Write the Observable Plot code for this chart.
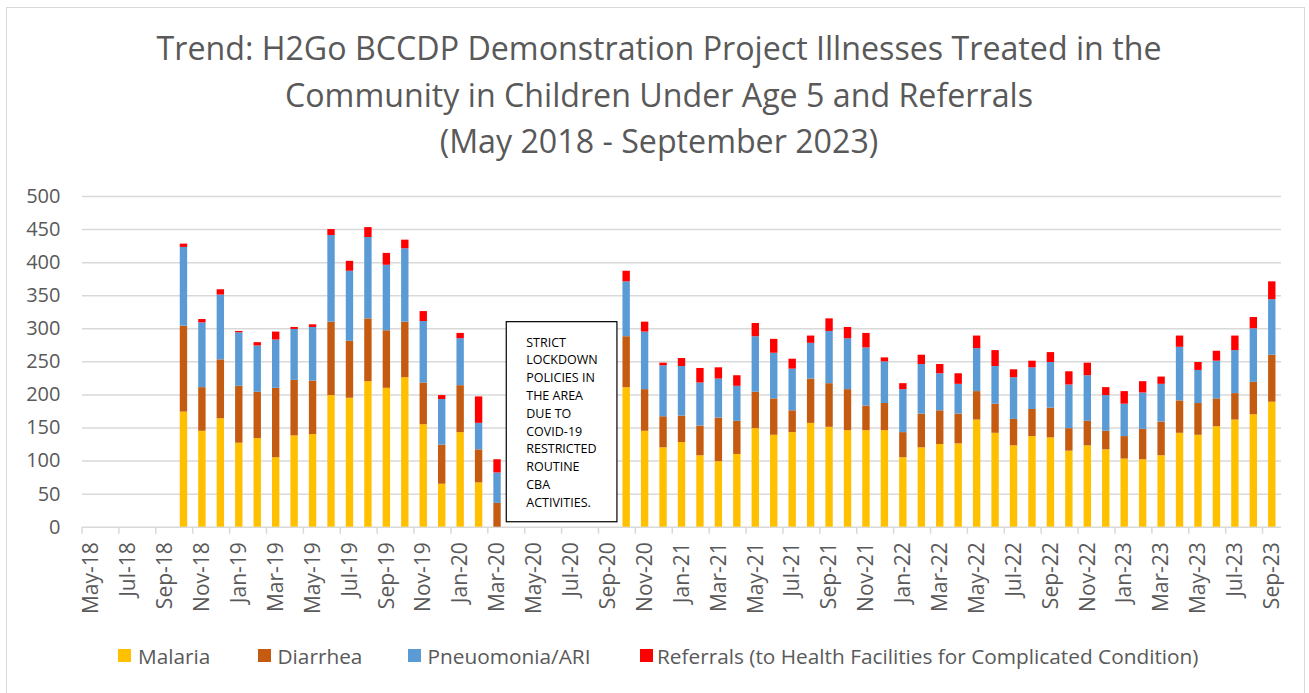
<!DOCTYPE html>
<html>
<head>
<meta charset="utf-8">
<script src="https://cdn.jsdelivr.net/npm/d3@7"></script>
<script src="https://cdn.jsdelivr.net/npm/@observablehq/plot@0.6"></script>
<style>
  html, body { margin: 0; padding: 0; background: #fff; overflow: hidden; }
  body { font-family: "Open Sans", sans-serif; }
  #wrap { position: relative; width: 1309px; height: 693px; overflow: hidden; }
  #border { position: absolute; left: 6px; top: 7px; width: 1299px; height: 720px; border: 1.5px solid #d9d9d9; box-sizing: border-box; }
  #title { position: absolute; left: 0; top: 25px; width: 1318px; text-align: center; font-size: 32.2px; line-height: 46.5px; color: #595959; }
  #chart { position: absolute; left: 0; top: 170px; }
  #chart g[aria-label^="x-axis"] text { font-size: 21px; }
  .sw { position: absolute; top: 649px; width: 13px; height: 13px; }
  .lt { position: absolute; top: 641px; font-size: 20.8px; line-height: 30px; color: #595959; white-space: nowrap; }
</style>
</head>
<body>
<div id="wrap">
  <div id="border"></div>
  <div id="title">Trend: H2Go BCCDP Demonstration Project Illnesses Treated in the<br>Community in Children Under Age 5 and Referrals<br>(May 2018 - September 2023)</div>
  <div id="chart"></div>
  <div id="legend"></div>
</div>
<script>
// ---- Data ----
const months = [
  "May-18","Jun-18","Jul-18","Aug-18","Sep-18","Oct-18","Nov-18","Dec-18",
  "Jan-19","Feb-19","Mar-19","Apr-19","May-19","Jun-19","Jul-19","Aug-19","Sep-19","Oct-19","Nov-19","Dec-19",
  "Jan-20","Feb-20","Mar-20","Apr-20","May-20","Jun-20","Jul-20","Aug-20","Sep-20","Oct-20","Nov-20","Dec-20",
  "Jan-21","Feb-21","Mar-21","Apr-21","May-21","Jun-21","Jul-21","Aug-21","Sep-21","Oct-21","Nov-21","Dec-21",
  "Jan-22","Feb-22","Mar-22","Apr-22","May-22","Jun-22","Jul-22","Aug-22","Sep-22","Oct-22","Nov-22","Dec-22",
  "Jan-23","Feb-23","Mar-23","Apr-23","May-23","Jun-23","Jul-23","Aug-23","Sep-23"
];

const malaria = [
  null,null,null,null,null,
  174,145,164,127,134,105,138,140,199,195,220,210,226,155,65,143,67,0,
  null,null,null,null,null,null,
  211,145,120,
  128,108,99,110,149,139,143,157,151,146,146,146,
  105,120,125,126,162,142,123,137,135,115,123,117,
  103,102,108,142,139,152,162,170,189
];
const diarrhea = [
  null,null,null,null,null,
  130,66,89,86,70,105,84,81,111,86,95,87,84,63,59,71,50,36,
  null,null,null,null,null,null,
  77,63,47,
  40,45,66,50,55,55,33,67,66,62,37,41,
  38,51,51,45,43,44,40,41,45,34,37,28,
  34,46,51,49,48,42,40,49,71
];
const pneumonia = [
  null,null,null,null,null,
  119,98,98,81,70,73,77,81,131,106,123,99,111,93,69,71,40,46,
  null,null,null,null,null,null,
  83,87,77,
  75,65,59,53,84,69,63,54,79,77,88,63,
  65,75,56,45,65,57,63,63,69,66,69,54,
  49,55,57,81,50,57,65,81,84
];
const referrals = [
  null,null,null,null,null,
  5,5,8,2,5,12,3,4,9,15,15,18,13,15,6,8,40,20,
  null,null,null,null,null,null,
  16,15,4,
  12,22,17,16,20,21,15,11,19,17,22,6,
  9,14,14,16,19,24,12,10,15,20,19,12,
  19,17,11,17,12,15,22,17,27
];

const seriesNames = ["Malaria", "Diarrhea", "Pneuomonia/ARI", "Referrals (to Health Facilities for Complicated Condition)"];
const seriesColors = ["#FFC000", "#C55A11", "#5B9BD5", "#FF0000"];
const yTicks = [0, 50, 100, 150, 200, 250, 300, 350, 400, 450, 500];
const tickMonths = months.filter((d, i) => i % 2 === 0);

const annotationLines = ["STRICT", "LOCKDOWN", "POLICIES IN", "THE AREA", "DUE TO", "COVID-19", "RESTRICTED", "ROUTINE", "CBA", "ACTIVITIES."];
const annotationFrom = "Apr-20";
const annotationTo = "Sep-20";
const annotationTop = 310;
const annotationBottom = 7.5;

// ---- Build table ----
const seriesValues = [malaria, diarrhea, pneumonia, referrals];
const table = [];
months.forEach((m, i) => {
  seriesNames.forEach((s, j) => {
    const v = seriesValues[j][i];
    if (v !== null) table.push({month: m, series: s, value: v});
  });
});

// ---- Plot ----
const plot = Plot.plot({
  width: 1309,
  height: 470,
  marginTop: 26,
  marginBottom: 113.3,
  marginLeft: 82,
  marginRight: 28,
  style: {fontFamily: '"Open Sans", sans-serif', fontSize: "20px", color: "#595959", background: "transparent", overflow: "visible"},
  x: {domain: months, paddingInner: 0.6, paddingOuter: 0.3, round: false, label: null, ticks: tickMonths, tickSize: 0, tickPadding: 15, tickRotate: -90},
  y: {domain: [0, 500], label: null, ticks: yTicks, tickSize: 0, tickPadding: 22},
  color: {domain: seriesNames, range: seriesColors},
  marks: [
    Plot.ruleY(yTicks, {stroke: "#d9d9d9", strokeWidth: 1.5}),
    Plot.barY(table, {x: "month", y: "value", fill: "series", order: seriesNames})
  ]
});
document.getElementById("chart").appendChild(plot);

// ---- Category boundary ticks and annotation box ----
const xsDesc = plot.scale("x");
const ysDesc = plot.scale("y");
const xb = d3.scaleBand().domain(xsDesc.domain).range(xsDesc.range).paddingInner(0.6).paddingOuter(0.3);
const yl = d3.scaleLinear().domain(ysDesc.domain).range(ysDesc.range);
const step = xb.step();
const bw = xb.bandwidth();
const svg = d3.select(plot);
const y0 = yl(0);
const g = svg.append("g");
months.forEach((m, i) => {
  if (i % 2 === 0) {
    const bx = xb(m) + bw / 2 - step / 2;
    g.append("line").attr("x1", bx).attr("x2", bx).attr("y1", y0).attr("y2", y0 + 7)
      .attr("stroke", "#d9d9d9").attr("stroke-width", 1.5);
  }
});

const ax0 = xb(annotationFrom) + bw / 2 - step / 2;
const ax1 = xb(annotationTo) + bw / 2 + step / 2;
const ay0 = yl(annotationTop);
const ay1 = yl(annotationBottom);
const ag = svg.append("g").attr("text-anchor", "start");
ag.append("rect").attr("x", ax0).attr("y", ay0).attr("width", ax1 - ax0).attr("height", ay1 - ay0)
  .attr("fill", "#fff").attr("stroke", "#000").attr("stroke-width", 1.2);
annotationLines.forEach((t, i) => {
  ag.append("text").attr("x", ax0 + 20).attr("y", ay0 + 20.6 + i * 17.8)
    .attr("dy", "0.35em").attr("font-size", "12.5px").attr("fill", "#000")
    .attr("text-anchor", "start")
    .attr("font-family", '"Open Sans", sans-serif').text(t);
});

// ---- Legend ----
const legendSwatchX = [118.3, 258, 408, 639.5];
const legendTextX = [138, 277.5, 427.5, 657];
const legend = document.getElementById("legend");
seriesNames.forEach((s, i) => {
  const sw = document.createElement("div");
  sw.className = "sw";
  sw.style.left = legendSwatchX[i] + "px";
  sw.style.background = seriesColors[i];
  legend.appendChild(sw);
  const lt = document.createElement("div");
  lt.className = "lt";
  lt.style.left = legendTextX[i] + "px";
  lt.textContent = s;
  legend.appendChild(lt);
});
</script>
</body>
</html>
